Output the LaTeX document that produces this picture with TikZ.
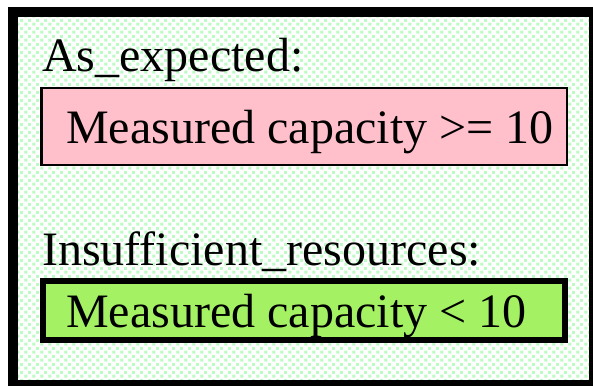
\documentclass[tikz,border=0pt]{standalone}
\usepackage{fontspec}
\setmainfont{Liberation Serif}
\usetikzlibrary{patterns}

\definecolor{boxpink}{RGB}{255,192,203}
\definecolor{boxgreen}{RGB}{165,241,100}
\definecolor{dotgreen}{RGB}{190,250,195}

% staggered little squares for the background
\pgfdeclarepatternformonly{greendots}{\pgfpointorigin}{\pgfqpoint{8pt}{8pt}}{\pgfqpoint{8pt}{8pt}}{%
  \pgfpathrectangle{\pgfqpoint{0.5pt}{0.5pt}}{\pgfqpoint{3.2pt}{3.2pt}}%
  \pgfpathrectangle{\pgfqpoint{4.5pt}{4.5pt}}{\pgfqpoint{3.2pt}{3.2pt}}%
  \pgfusepath{fill}}

\tikzset{
  label/.style={anchor=base west, inner sep=0pt, font=\fontsize{48}{52}\selectfont},
  box/.style={draw=black, rectangle, inner sep=0pt}
}

\begin{document}
\begin{tikzpicture}[x=1pt, y=-1pt]
        \useasboundingbox (0,0) rectangle (593,385);
        \fill[white] (0,0) rectangle (593,385);

        % dotted field inside the heavy frame
        \fill[pattern=greendots, pattern color=dotgreen] (18,17) rectangle (589,380);
        \draw[line width=10pt] (13,12) rectangle (594,385);

        \node[label] (E) at (42,72) {As\_expected:};
        \node[box, fill=boxpink, line width=2.5pt, minimum width=525.5pt, minimum height=76.5pt] (EB) at (304,126.5) {};
        \node[label] (ET) at (66,143) {Measured capacity >= 10};

        \node[label] (I) at (42,265) {Insufficient\_resources:};
        \node[box, fill=boxgreen, line width=6pt, minimum width=522pt, minimum height=59pt] (IB) at (304,310.5) {};
        \node[label] (IT) at (66,327) {Measured capacity < 10};
    \end{tikzpicture}
\end{document}
